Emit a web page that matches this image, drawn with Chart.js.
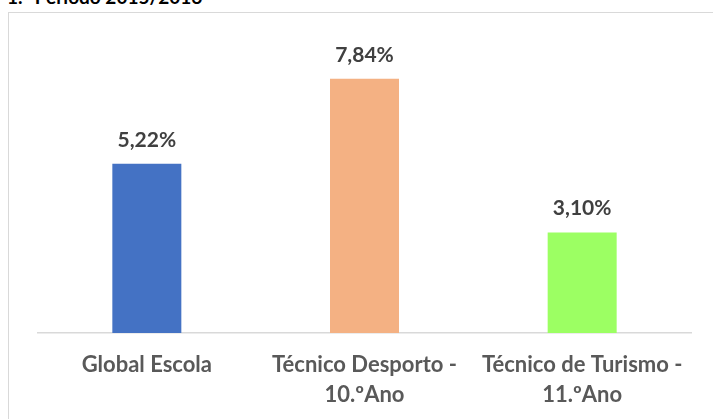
<!DOCTYPE html>
<html>
<head>
<meta charset="utf-8">
<script src="https://cdn.jsdelivr.net/npm/chart.js@4.4.0/dist/chart.umd.min.js"></script>
<style>
  body { margin: 0; background: #fff; overflow: hidden; }
  #titulo { position: absolute; left: 7px; top: -15px; font: bold 19px Lato, sans-serif; color: #000; white-space: nowrap; }
  #caixa { position: absolute; left: 8px; top: 12px; width: 720px; height: 420px; border: 1px solid #d9d9d9; }
  #wrap { position: absolute; left: 0; top: 0; width: 713px; height: 419px; }
</style>
</head>
<body>
<div id="titulo">1.º Período 2015/2016</div>
<div id="caixa"></div>
<div id="wrap"><canvas id="grafico"></canvas></div>
<script>
// dados
const categorias = [['Global Escola'], ['Técnico Desporto -', '10.ºAno'], ['Técnico de Turismo -', '11.ºAno']];
const valores = [5.22, 7.84, 3.10];
const cores = ['#4472c4', '#f4b183', '#9cff63'];

// etiquetas dos valores por cima das barras
const etiquetas = {
    id: 'etiquetas',
    afterDatasetsDraw(chart) {
        const ctx = chart.ctx;
        const meta = chart.getDatasetMeta(0);
        ctx.save();
        ctx.font = 'bold 21px Lato, sans-serif';
        ctx.fillStyle = '#404040';
        ctx.textAlign = 'center';
        ctx.textBaseline = 'alphabetic';
        meta.data.forEach((bar, i) => {
            const txt = valores[i].toFixed(2).replace('.', ',') + '%';
            ctx.fillText(txt, bar.x, bar.y - 17);
        });
        ctx.restore();
    }
};

const ctx = document.getElementById('grafico').getContext('2d');
new Chart(ctx, {
    type: 'bar',
    data: {
        labels: categorias,
        datasets: [{
            data: valores,
            backgroundColor: cores,
            barPercentage: 1,
            categoryPercentage: 0.317
        }]
    },
    options: {
        responsive: true,
        maintainAspectRatio: false,
        animation: false,
        layout: { padding: { left: 38, right: 22, top: 41, bottom: 0 } },
        plugins: { legend: { display: false }, tooltip: { enabled: false } },
        scales: {
            y: { display: false, min: 0, max: 9 },
            x: {
                grid: { display: false },
                border: { color: '#d9d9d9', width: 1.5 },
                ticks: {
                    color: '#595959',
                    font: { family: 'Lato, sans-serif', size: 22, weight: 'bold', lineHeight: '30px' },
                    maxRotation: 0,
                    padding: 9
                }
            }
        }
    },
    plugins: [etiquetas]
});
</script>
</body>
</html>
